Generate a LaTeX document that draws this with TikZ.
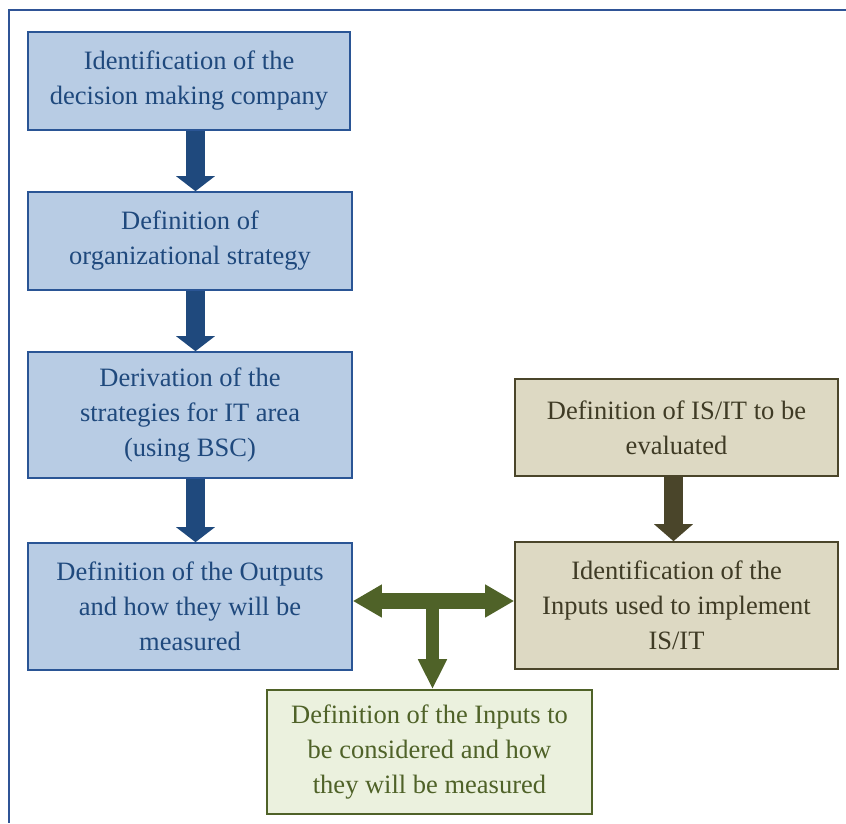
\documentclass[tikz,border=0pt]{standalone}
\usepackage{fontspec}
\setmainfont{Liberation Serif}
\usetikzlibrary{arrows.meta,calc}
\definecolor{bfill}{HTML}{B8CCE4}
\definecolor{bdraw}{HTML}{2A5595}
\definecolor{btext}{HTML}{1F497D}
\definecolor{barrow}{HTML}{1F497D}
\definecolor{tfill}{HTML}{DDD9C3}
\definecolor{tdraw}{HTML}{4A452A}
\definecolor{ttext}{HTML}{3F3B25}
\definecolor{gfill}{HTML}{EBF1DE}
\definecolor{gdraw}{HTML}{4F6228}
\definecolor{gtext}{HTML}{4F6228}
\definecolor{frame}{HTML}{2F5496}
\tikzset{
  boxbase/.style={rectangle, line width=1.6pt, align=center, inner sep=0pt,
    font=\fontsize{26.5}{35}\selectfont},
  bluebox/.style={boxbase, draw=bdraw, fill=bfill, text=btext},
  tanbox/.style={boxbase, draw=tdraw, fill=tfill, text=ttext},
  greenbox/.style={boxbase, draw=gdraw, fill=gfill, text=gtext},
  bluearrow/.style={draw=barrow, line width=19pt, -{Triangle[width=38pt,length=15pt,fill=barrow]}},
  tanarrow/.style={draw=tdraw, line width=19pt, -{Triangle[width=38pt,length=17pt,fill=tdraw]}},
  greenharrow/.style={draw=gdraw, line width=16pt, {Triangle[width=31pt,length=29pt,fill=gdraw]}-{Triangle[width=31pt,length=29pt,fill=gdraw]}},
  greenvarrow/.style={draw=gdraw, line width=13pt, -{Triangle[width=27pt,length=30pt,fill=gdraw]}},
}
\begin{document}
\begin{tikzpicture}[x=1pt,y=-1pt]
\useasboundingbox (0,0) rectangle (846,823);
% frame
\coordinate (ftl) at (9,10);
\coordinate (ftr) at (846,10);
\coordinate (fbl) at (9,823);
\draw[frame, line width=2pt] (ftr) -- (ftl) -- (fbl);
% boxes
\node[bluebox, minimum width=322pt, minimum height=98pt] (b1) at (189,81)
  {Identification of the\\decision making company};
\node[bluebox, minimum width=324pt, minimum height=98pt] (b2) at (190,241)
  {Definition of\\organizational strategy};
\node[bluebox, minimum width=324pt, minimum height=126pt] (b3) at (190,415)
  {Derivation of the\\strategies for IT area\\(using BSC)};
\node[bluebox, minimum width=324pt, minimum height=127pt] (b4) at (190,606.5)
  {Definition of the Outputs\\and how they will be\\measured};
\node[tanbox, minimum width=323pt, minimum height=97pt] (b5) at (676.5,427.5)
  {Definition of IS/IT to be\\evaluated};
\node[tanbox, minimum width=323pt, minimum height=127pt] (b6) at (676.5,605.5)
  {Identification of the\\Inputs used to implement\\IS/IT};
\node[greenbox, minimum width=325pt, minimum height=124pt] (b7) at (429.5,752)
  {Definition of the Inputs to\\be considered and how\\they will be measured};
% arrows
\coordinate (ax) at (195.5,0);
\coordinate (tx) at (673.5,0);
\coordinate (gy) at (0,601);
\coordinate (gx) at (432.5,0);
\coordinate (gj) at (432.5,601);
\draw[bluearrow] (b1.south -| ax) -- (b2.north -| ax);
\draw[bluearrow] (b2.south -| ax) -- (b3.north -| ax);
\draw[bluearrow] (b3.south -| ax) -- (b4.north -| ax);
\draw[tanarrow] (b5.south -| tx) -- (b6.north -| tx);
\draw[greenvarrow] (gj) -- (b7.north -| gx);
\draw[greenharrow] (b4.east |- gy) -- (b6.west |- gy);
\end{tikzpicture}
\end{document}
